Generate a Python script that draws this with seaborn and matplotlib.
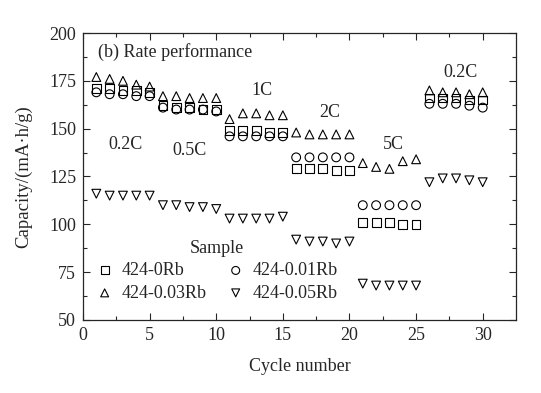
import numpy as np
import pandas as pd
import matplotlib
matplotlib.use('Agg')
import matplotlib.pyplot as plt
import seaborn as sns

# ---- data ----
cycles = list(range(1, 31))

cap_0rb = [171, 171, 170, 170, 169,
           162, 161, 161, 160, 160,
           149, 149, 149, 148, 148,
           129, 129, 129, 128, 128,
           101, 101, 101, 100, 100,
           166, 166, 166, 165, 165]
cap_001rb = [169, 168, 168, 167, 167,
             161, 160, 160, 160, 159,
             146, 146, 146, 146, 146,
             135, 135, 135, 135, 135,
             110, 110, 110, 110, 110,
             163, 163, 163, 162, 161]
cap_003rb = [177, 176, 175, 173, 172,
             167, 167, 166, 166, 166,
             155, 158, 158, 157, 157,
             148, 147, 147, 147, 147,
             132, 130, 129, 133, 134,
             170, 169, 169, 168, 169]
cap_005rb = [116, 115, 115, 115, 115,
             110, 110, 109, 109, 108,
             103, 103, 103, 103, 104,
             92, 91, 91, 90, 91,
             69, 68, 68, 68, 68,
             122, 124, 124, 123, 122]

samples = ['424-0Rb', '424-0.01Rb', '424-0.03Rb', '424-0.05Rb']
markers = ['s', 'o', '^', 'v']

rate_labels = ['0.2C', '0.5C', '1C', '2C', '5C', '0.2C']
rate_label_x = [3.2, 8.0, 13.4, 18.5, 23.3, 28.3]
rate_label_y = [141.5, 138.5, 170, 158.5, 141.5, 179.5]

df = pd.DataFrame({
    'Cycle': cycles * 4,
    'Capacity': cap_0rb + cap_001rb + cap_003rb + cap_005rb,
    'Sample': np.repeat(samples, len(cycles)),
})

# ---- plot ----
sns.set_style('ticks')
plt.rcParams['font.family'] = ['Liberation Serif', 'DejaVu Serif']

fig = plt.figure(figsize=(5.41, 3.93), dpi=100)
ax = fig.add_axes([0.1534, 0.1858, 0.8004, 0.7302])

for name, m in zip(samples, markers):
    sub = df[df['Sample'] == name]
    sns.scatterplot(data=sub, x='Cycle', y='Capacity', marker=m, s=40,
                    facecolor='none', edgecolor='black', linewidth=0.8,
                    label=name, ax=ax)

ax.set_xlim(0, 32.5)
ax.set_ylim(50, 200)
ax.set_xticks(np.arange(0, 31, 5))
ax.set_xticks(np.arange(0, 32.5, 2.5), minor=True)
ax.set_yticks(np.arange(50, 201, 25))
ax.set_yticks(np.arange(50, 201, 12.5), minor=True)
ax.tick_params(which='both', direction='in', top=True, right=True,
               labelsize=13, width=0.8)
ax.tick_params(which='major', length=5, pad=5)
ax.tick_params(which='minor', length=3)
for sp in ax.spines.values():
    sp.set_visible(True)
    sp.set_linewidth(0.9)

ax.set_xlabel('Cycle number', fontsize=13, labelpad=10)
ax.set_ylabel('Capacity/(mA·h/g)', fontsize=13.5, labelpad=12)

ax.text(1.1, 190, '(b) Rate performance', fontsize=13, ha='left', va='center')
for t, x, y in zip(rate_labels, rate_label_x, rate_label_y):
    ax.text(x, y, t, fontsize=13, ha='center', va='center')

# legend filled row by row like the original
h, l = ax.get_legend_handles_labels()
order = [0, 2, 1, 3]
ax.legend([h[i] for i in order], [l[i] for i in order],
          title='Sample', ncol=2, frameon=False, loc='lower left',
          bbox_to_anchor=(0.0, 0.02), fontsize=13, title_fontsize=13,
          handletextpad=0.45, columnspacing=1.1, labelspacing=0.3,
          handlelength=1.0, borderaxespad=0.3, markerscale=0.9)

fig.savefig('out.png', dpi=100)
